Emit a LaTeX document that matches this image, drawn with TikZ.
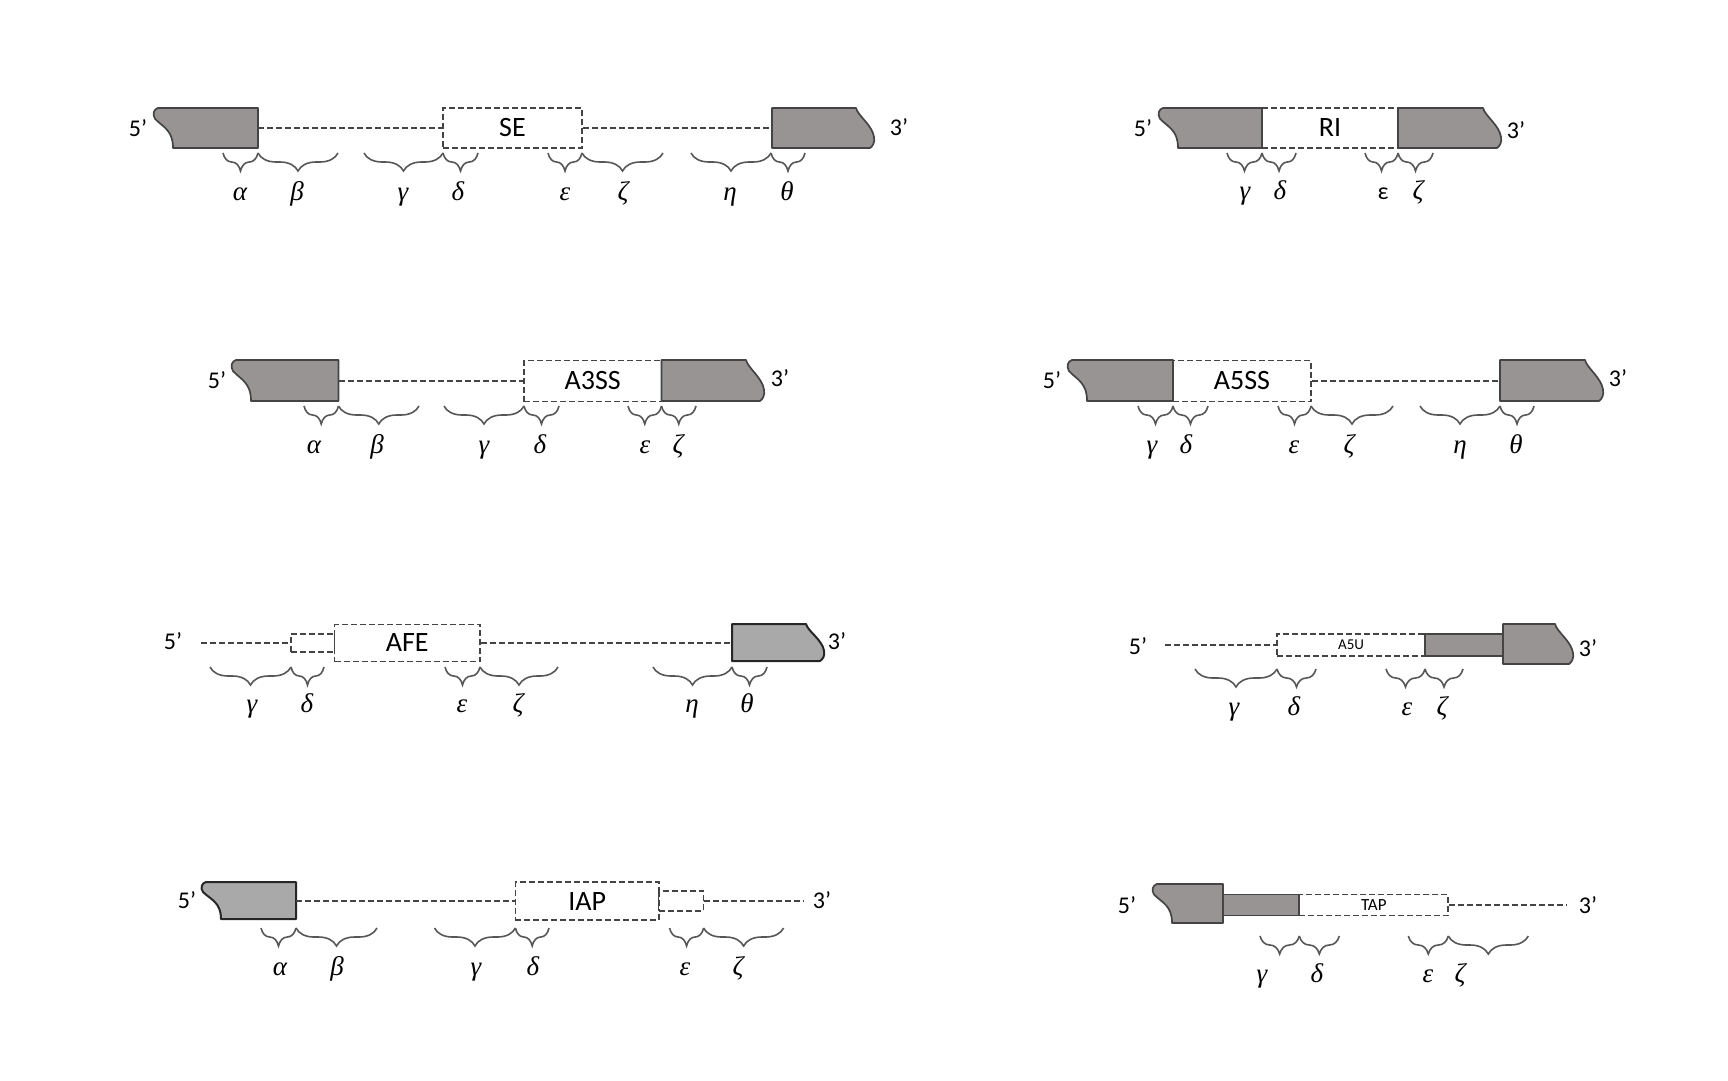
\documentclass[tikz,border=0pt]{standalone}
\usepackage{fontspec}
\setmainfont{Carlito}
\newfontfamily\grkfont{Liberation Serif}
\usetikzlibrary{decorations.pathreplacing}
\definecolor{exg}{HTML}{989494}
\definecolor{exl}{HTML}{A9A9A9}
\definecolor{ln}{HTML}{444444}
\tikzset{
 intron/.style={draw=ln, line width=1.9pt, dash pattern=on 6pt off 3pt},
 dbox/.style={draw=ln, line width=1.7pt, dash pattern=on 6pt off 3pt, fill=white, rectangle, inner sep=0pt, font=\fontsize{28}{28}\selectfont},
 exon/.style={fill=exg, draw=ln, line width=1.7pt, line join=round},
 exonb/.style={fill=exl, draw=black!85, line width=2pt, line join=round},
 exrect/.style={rectangle, fill=exg, draw=ln, line width=1.7pt, inner sep=0pt},
 brc/.style={draw=ln!90, line width=1.6pt, decorate, decoration={brace,mirror,amplitude=18pt}},
 gl/.style={font=\grkfont\itshape\fontsize{27}{27}\selectfont, inner sep=0pt},
 endlbl/.style={font=\fontsize{24}{24}\selectfont, inner sep=0pt},
}
\newcounter{lbc}
% left (5') exon: style, x0 (top-left), xr, yt, yb
\newcommand\lex[5]{%
\path[#1] (#3,#4) -- (#2,#4) .. controls ({#2-4},{#4+1}) and ({#2-6},{#4+0.15*(#5-#4)}) .. ({#2-3},{#4+0.27*(#5-#4)}) .. controls ({#2+5},{#4+0.48*(#5-#4)}) and ({#2+15},{#4+0.55*(#5-#4)}) .. ({#2+15},{#5}) -- (#3,#5) -- cycle;}
% right (3') exon: style, xl, xt (top-right), yt, yb
\newcommand\rex[5]{%
\path[#1] (#2,#4) -- (#3,#4) .. controls ({#3+2},{#4+0.2*(#5-#4)}) and ({#3+16},{#4+0.42*(#5-#4)}) .. ({#3+18},{#4+0.72*(#5-#4)}) .. controls ({#3+19},{#4+0.85*(#5-#4)}) and ({#3+17},{#4+0.95*(#5-#4)}) .. ({#3+14},{#5}) -- (#2,#5) -- cycle;}
\newcommand\brc[3]{\draw[brc] (#1,#3) -- (#2,#3);}
\newcommand\gk[3]{\stepcounter{lbc}\node[gl,anchor=base] (g\thelbc) at (#1,{#2+7}) {#3};}
\newcommand\termlbl[5]{\node[endlbl] (#1-5) at (#2,#3) {5’};\node[endlbl] (#1-3) at (#4,#5) {3’};}
\begin{document}
\begin{tikzpicture}[x=1pt,y=-1pt]
\useasboundingbox (0,0) rectangle (1728,1080);

% ================= SE =================
\node[dbox, minimum width=139pt, minimum height=40pt] (se) at (512.5,128) {SE};
\lex{exon}{158}{258}{108}{148}
\rex{exon}{772}{856}{108}{148}
\coordinate (seL) at (258,128);
\coordinate (seR) at (772,128);
\draw[intron] (seL) -- (se.west);
\draw[intron] (se.east) -- (seR);
\termlbl{se}{138}{128}{899}{127}
\brc{223}{258}{153}\brc{258}{338}{153}\brc{364}{443}{153}\brc{443}{478}{153}
\brc{548}{582}{153}\brc{582}{663}{153}\brc{691}{771}{153}\brc{771}{805}{153}
\gk{240}{193}{α}\gk{297}{193}{β}\gk{403}{193}{γ}\gk{458}{193}{δ}
\gk{565}{193}{ε}\gk{623}{193}{ζ}\gk{730}{193}{η}\gk{787}{193}{θ}

% ================= RI =================
\node[dbox, minimum width=136pt, minimum height=40pt] (ri) at (1330,128) {RI};
\lex{exon}{1163}{1262}{108}{148}
\rex{exon}{1398}{1483}{108}{148}
\termlbl{ri}{1143}{128}{1516}{130}
\brc{1227}{1262}{153}\brc{1262}{1296}{153}\brc{1365}{1398}{153}\brc{1398}{1433}{153}
\gk{1245}{192}{γ}\gk{1280}{192}{δ}\gk{1383}{192}{\upshape\rmfamily\fontsize{24}{24}\selectfont ε}\gk{1418}{192}{ζ}

% ================= A3SS =================
\node[dbox, minimum width=137.5pt, minimum height=41pt] (a3) at (592.75,381) {A3SS};
\lex{exon}{236}{338.5}{360}{401}
\rex{exon}{661.5}{746}{360}{401}
\coordinate (a3L) at (338.5,381);
\draw[intron] (a3L) -- (a3.west);
\termlbl{a3}{217}{380}{780}{378}
\brc{304}{338.5}{406}\brc{338.5}{419}{406}\brc{444}{524}{406}\brc{524}{559}{406}
\brc{628}{661.5}{406}\brc{661.5}{696}{406}
\gk{314}{446}{α}\gk{377}{446}{β}\gk{484}{446}{γ}\gk{540}{446}{δ}
\gk{645}{446}{ε}\gk{678}{446}{ζ}

% ================= A5SS =================
\node[dbox, minimum width=138pt, minimum height=41pt] (a5) at (1242,381) {A5SS};
\lex{exon}{1072}{1173}{360}{401}
\rex{exon}{1500}{1585}{360}{401}
\coordinate (a5R) at (1500,381);
\draw[intron] (a5.east) -- (a5R);
\termlbl{a5}{1052}{380}{1618}{378}
\brc{1138}{1173}{406}\brc{1173}{1208}{406}\brc{1278}{1311}{406}\brc{1311}{1393}{406}
\brc{1420}{1500}{406}\brc{1500}{1534}{406}
\gk{1152}{446}{γ}\gk{1186}{446}{δ}\gk{1294}{446}{ε}\gk{1349}{446}{ζ}
\gk{1460}{446}{η}\gk{1516}{446}{θ}

% ================= AFE =================
\node[dbox, minimum width=43.5pt, minimum height=18pt] (sb1) at (312.75,643) {};
\node[dbox, minimum width=145.5pt, minimum height=37pt] (afe) at (407.25,643) {AFE};
\rex{exonb}{732}{806}{624}{661}
\coordinate (afeL) at (201,643);
\coordinate (afeR) at (732,643);
\draw[intron] (afeL) -- (sb1.west);
\draw[intron] (afe.east) -- (afeR);
\termlbl{afe}{173}{641}{837}{641}
\brc{210}{291}{667}\brc{291}{324}{667}\brc{445}{480}{667}\brc{480}{558}{667}
\brc{653}{732}{667}\brc{732}{767}{667}
\gk{252}{705}{γ}\gk{307}{705}{δ}\gk{462}{705}{ε}\gk{518}{705}{ζ}
\gk{692}{705}{η}\gk{747}{705}{θ}

% ================= A5U =================
\node[dbox, minimum width=148pt, minimum height=22pt, font=\fontsize{15}{15}\selectfont] (a5u) at (1351,645) {A5U};
\node[exrect, minimum width=78pt, minimum height=22pt] (a5ut) at (1464,645) {};
\rex{exon}{1503}{1555}{624}{664}
\coordinate (a5uL) at (1165,645);
\draw[intron] (a5uL) -- (a5u.west);
\termlbl{a5u}{1138}{646}{1588}{648}
\brc{1195}{1277}{669}\brc{1277}{1316}{669}\brc{1386}{1425}{669}\brc{1425}{1463}{669}
\gk{1234}{708}{γ}\gk{1294}{708}{δ}\gk{1407}{708}{ε}\gk{1442}{708}{ζ}

% ================= IAP =================
\node[dbox, minimum width=143.6pt, minimum height=38pt] (iap) at (587.2,901) {IAP};
\node[dbox, minimum width=44.6pt, minimum height=19.5pt] (sb2) at (681.3,901) {};
\lex{exonb}{206}{296}{882}{919}
\coordinate (iapL) at (296,901);
\coordinate (iapR) at (804,901);
\draw[intron] (iapL) -- (iap.west);
\draw[intron] (sb2.east) -- (iapR);
\termlbl{iap}{187}{900}{822}{900}
\brc{261}{296}{928}\brc{296}{377}{928}\brc{434.5}{515.4}{928}\brc{515.4}{549}{928}
\brc{669.6}{703.6}{928}\brc{703.6}{783.6}{928}
\gk{280}{968}{α}\gk{337}{968}{β}\gk{476}{968}{γ}\gk{533}{968}{δ}
\gk{685}{968}{ε}\gk{738}{968}{ζ}

% ================= TAP =================
\node[dbox, minimum width=149pt, minimum height=21pt, font=\fontsize{17}{17}\selectfont] (tap) at (1373.8,905) {TAP};
\node[exrect, minimum width=76.3pt, minimum height=21pt] (tapt) at (1261.15,905) {};
\lex{exon}{1157}{1223}{884}{923}
\coordinate (tapR) at (1567,905);
\draw[intron] (tap.east) -- (tapR);
\termlbl{tap}{1127}{905}{1588}{905}
\brc{1260}{1299.3}{936}\brc{1299.3}{1339.3}{936}\brc{1408.3}{1448.3}{936}\brc{1448.3}{1528.3}{936}
\gk{1262}{975}{γ}\gk{1317}{975}{δ}\gk{1428}{975}{ε}\gk{1460}{975}{ζ}
\end{tikzpicture}
\end{document}
